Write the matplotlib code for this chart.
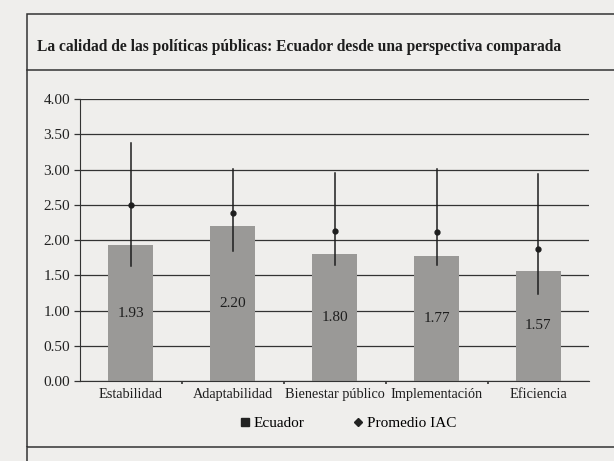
import matplotlib.pyplot as plt
from matplotlib.lines import Line2D
from matplotlib.patches import Rectangle

# Datos
categorias = ['Estabilidad', 'Adaptabilidad', 'Bienestar público', 'Implementación', 'Eficiencia']
ecuador = [1.93, 2.20, 1.80, 1.77, 1.57]
promedio_iac = [2.50, 2.38, 2.13, 2.11, 1.87]
minimo_iac = [1.64, 1.85, 1.65, 1.65, 1.24]
maximo_iac = [3.38, 3.01, 2.95, 3.01, 2.94]

plt.rcParams['font.family'] = ['Liberation Serif', 'DejaVu Serif']
papel = '#efeeec'
tinta = '#1e1e1e'

fig = plt.figure(figsize=(6.14, 4.61), dpi=100, facecolor=papel)

# marco del recuadro
fig.add_artist(Rectangle((0.044, 0.03), 1.2, 0.94, transform=fig.transFigure,
                         fill=False, edgecolor='#333333', linewidth=1.1))
fig.add_artist(Line2D([0.044, 0.044], [0.0, 0.03], transform=fig.transFigure,
                      color='#333333', linewidth=1.1))
fig.add_artist(Line2D([0.044, 1.0], [0.848, 0.848], transform=fig.transFigure,
                      color='#333333', linewidth=1.1))
fig.text(0.060, 0.897, 'La calidad de las políticas públicas: Ecuador desde una perspectiva comparada',
         fontsize=11.2, fontweight='bold', color=tinta, va='center', ha='left')

ax = fig.add_axes([0.13, 0.173, 0.83, 0.612])
ax.set_facecolor(papel)
x = range(len(categorias))

ax.bar(x, ecuador, width=0.44, color='#9a9997', zorder=2)
for i, v in enumerate(ecuador):
    ax.text(i, v / 2, f'{v:.2f}', ha='center', va='center', fontsize=11, color=tinta, zorder=4)

for i in x:
    ax.plot([i, i], [minimo_iac[i], maximo_iac[i]], color=tinta, linewidth=1.1, zorder=3)
ax.plot(list(x), promedio_iac, linestyle='none', marker='o', markersize=3.5, color=tinta, zorder=4)

ax.set_ylim(0, 4)
ax.set_xlim(-0.5, 4.5)
ax.set_yticks([i * 0.5 for i in range(9)])
ax.set_yticklabels([f'{i * 0.5:.2f}' for i in range(9)], fontsize=11, color='#222222')
ax.yaxis.grid(True, color='#333333', linewidth=0.9)
ax.set_axisbelow(True)
ax.set_xticks(list(x))
ax.set_xticklabels(categorias, fontsize=10.3, color=tinta)
ax.tick_params(axis='x', length=0, pad=5)
ax.tick_params(axis='y', length=4, width=0.9, color='#333333', pad=3)
ax.set_xticks([0.5, 1.5, 2.5, 3.5], minor=True)
ax.tick_params(axis='x', which='minor', length=2, width=1.2, color='#333333', direction='out')
for s in ['top', 'right']:
    ax.spines[s].set_visible(False)
ax.spines['left'].set_color('#333333')
ax.spines['bottom'].set_color('#333333')

handles = [
    Line2D([], [], linestyle='none', marker='s', markersize=6, color='#222222'),
    Line2D([], [], linestyle='none', marker='D', markersize=4, color='#222222'),
]
fig.legend(handles, ['Ecuador', 'Promedio IAC'], loc='center', bbox_to_anchor=(0.565, 0.082),
           ncol=2, frameon=False, fontsize=11, handletextpad=0.1, columnspacing=3.0, handlelength=1)

fig.savefig('out.png', dpi=100, facecolor=papel)
